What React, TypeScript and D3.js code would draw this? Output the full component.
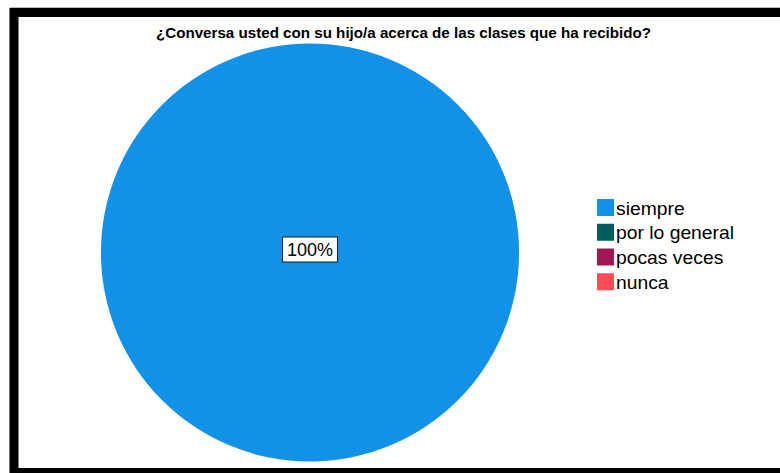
import React from "react";
import * as d3 from "d3";

const title = "¿Conversa usted con su hijo/a acerca de las clases que ha recibido?";
const categories = ["siempre", "por lo general", "pocas veces", "nunca"];
const values = [100, 0, 0, 0];
const colors = ["#1192e8", "#005d5d", "#9f1853", "#fa4d56"];

const FONT = "Liberation Sans, Arial, sans-serif";

export default function App() {
  const W = 780, H = 473;
  const cx = 310, cy = 252.5, r = 209;
  const pie = d3.pie<number>().sort(null).value((d) => d)(values);
  const arc = d3.arc<d3.PieArcDatum<number>>().innerRadius(0).outerRadius(r);
  const total = d3.sum(values);
  const fmt = (v: number) => `${Math.round((v / total) * 100)}%`;
  const legendY = d3.scaleBand<string>().domain(categories).range([199, 298]).padding(0);
  return (
    <svg width={W} height={H} style={{ position: "absolute", left: 0, top: 0, display: "block", background: "#fff" }}>
      <rect x={0} y={0} width={W} height={H} fill="#fff" />
      <line x1={10} x2={W} y1={7.5} y2={7.5} stroke="#bbb" strokeWidth={1} />
      <rect x={14} y={12.5} width={820} height={460} fill="none" stroke="#000" strokeWidth={9} />
      <g transform={`translate(403.5,37.5) scale(1.083,1)`}>
        <text x={0} y={0} textAnchor="middle" fontFamily={FONT} fontWeight="bold" fontSize={14} fill="#000">{title}</text>
      </g>
      <g transform={`translate(${cx},${cy})`}>
        {pie.map((p, i) => (p.value > 0 ? <path key={i} d={arc(p) || ""} fill={colors[i]} /> : null))}
        {pie.filter((p) => p.value > 0).map((p, i) => {
          const [lx, ly] = p.endAngle - p.startAngle >= 2 * Math.PI - 1e-6 ? [0, -3] : arc.centroid(p);
          return (
            <g key={i} transform={`translate(${lx},${ly})`}>
              <rect x={-27.5} y={-12.5} width={55} height={25} fill="#fff" stroke="#1a1a1a" strokeWidth={1} />
              <text x={0} y={6.5} textAnchor="middle" fontFamily={FONT} fontSize={18} fill="#000">{fmt(p.value)}</text>
            </g>
          );
        })}
      </g>
      {categories.map((c, i) => {
        const y = legendY(c)!;
        return (
          <g key={c}>
            <rect x={597} y={y} width={17} height={17} fill={colors[i]} />
            <g transform={`translate(616,${y + 15.5}) scale(1.073,1)`}>
              <text x={0} y={0} fontFamily={FONT} fontSize={18} fill="#000">{c}</text>
            </g>
          </g>
        );
      })}
    </svg>
  );
}
